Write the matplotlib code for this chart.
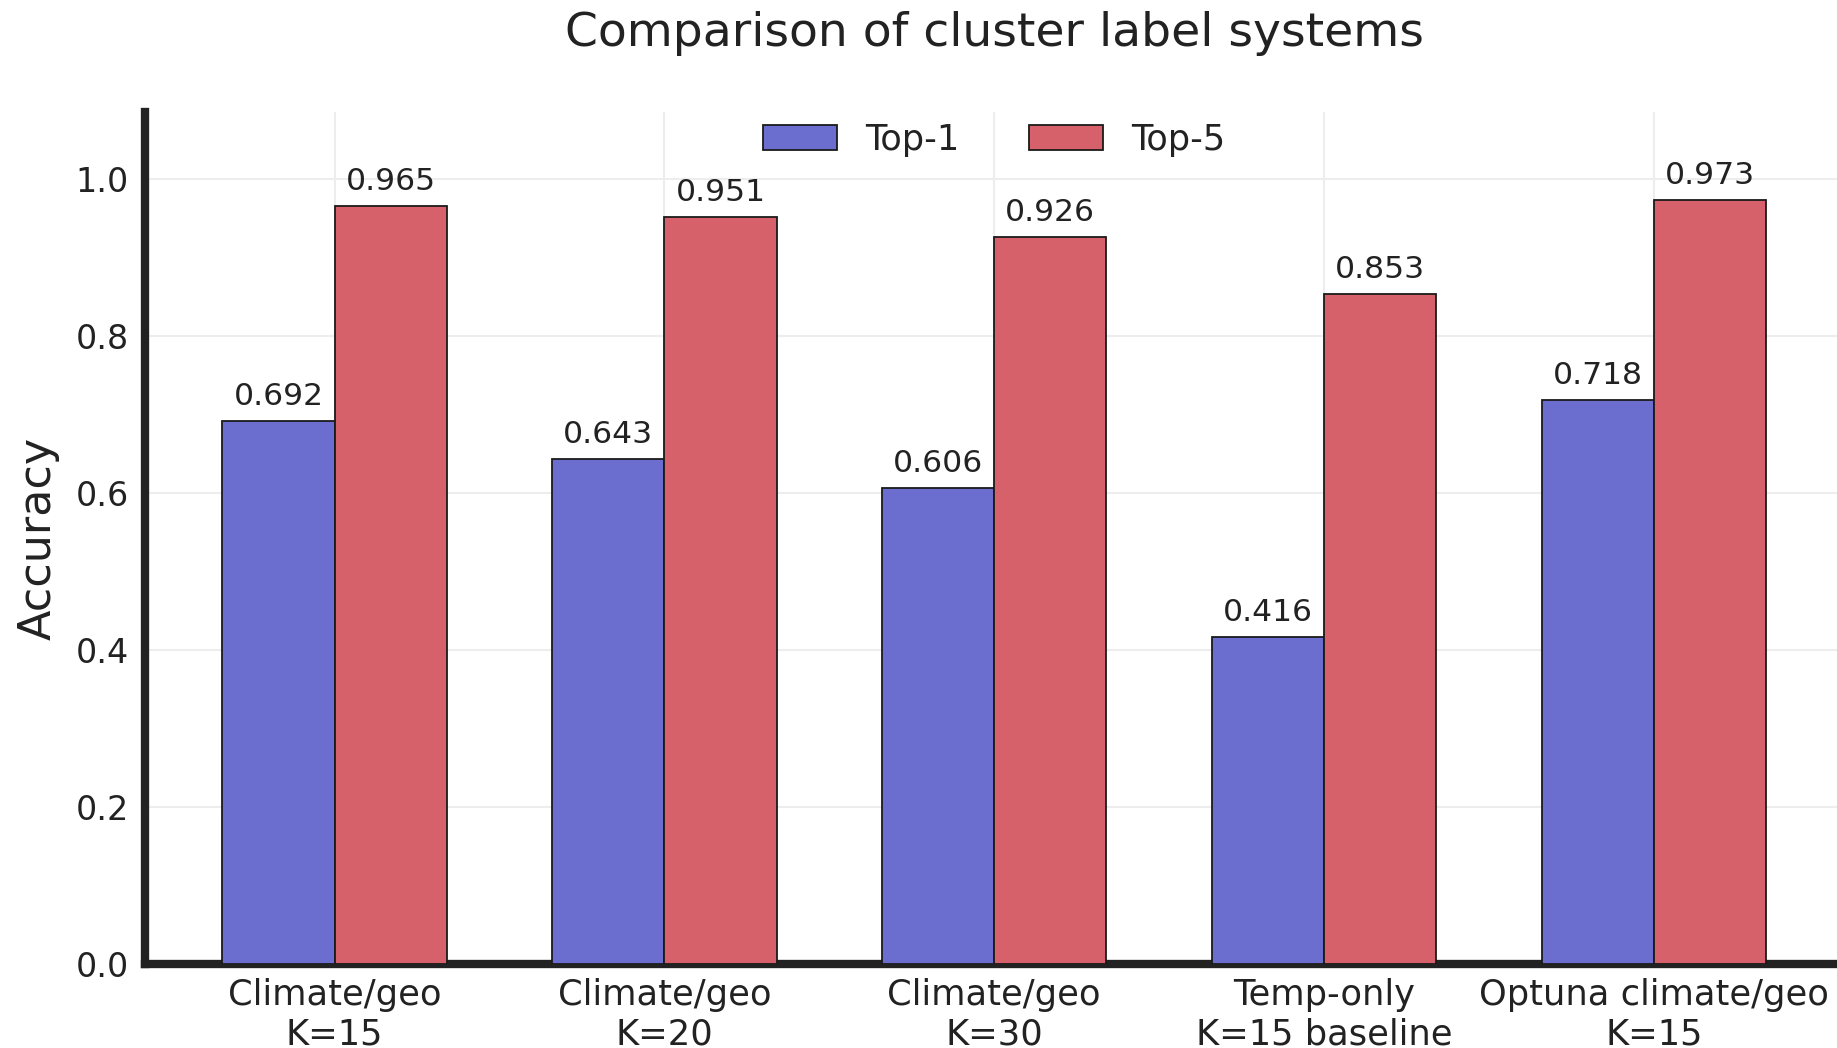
import matplotlib
matplotlib.use("Agg")
import matplotlib.pyplot as plt
import numpy as np

# Data
categories = [
    "Climate/geo\nK=15",
    "Climate/geo\nK=20",
    "Climate/geo\nK=30",
    "Temp-only\nK=15 baseline",
    "Optuna climate/geo\nK=15",
]
top1 = [0.692, 0.643, 0.606, 0.416, 0.718]
top5 = [0.965, 0.951, 0.926, 0.853, 0.973]
series_labels = ["Top-1", "Top-5"]
yticks = [0.0, 0.2, 0.4, 0.6, 0.8, 1.0]

TEXT = "#222222"
plt.rcParams["font.family"] = ["DejaVu Sans"]
plt.rcParams["text.color"] = TEXT

fig = plt.figure(figsize=(18.37, 10.48), dpi=100)
ax = fig.add_axes([0.0791, 0.0802, 0.9242, 0.8127])

x = np.arange(len(categories))
w = 0.34
b1 = ax.bar(x - w / 2, top1, w, color="#6b6ecf", edgecolor="#1a1a1a",
            linewidth=1.3, label=series_labels[0], zorder=3)
b2 = ax.bar(x + w / 2, top5, w, color="#d6616b", edgecolor="#1a1a1a",
            linewidth=1.3, label=series_labels[1], zorder=3)

for bars, vals in ((b1, top1), (b2, top5)):
    for rect, v in zip(bars, vals):
        ax.text(rect.get_x() + rect.get_width() / 2, v + 0.013, f"{v:.3f}",
                ha="center", va="bottom", fontsize=22.6, color=TEXT, zorder=4)

ax.set_xlim(-0.574, 4.574)
ax.set_ylim(0, 1.085)
ax.set_xticks(x)
ax.set_xticklabels(categories)
ax.set_yticks(yticks)
ax.set_yticklabels([f"{t:.1f}" for t in yticks])

ax.tick_params(axis="x", length=0, pad=10, labelsize=25.4, labelcolor=TEXT)
ax.tick_params(axis="y", length=0, pad=12, labelsize=24, labelcolor=TEXT)

ax.grid(True, color="#ededed", linewidth=1.5, zorder=0)
ax.set_axisbelow(True)

for side in ("top", "right"):
    ax.spines[side].set_visible(False)
for side in ("left", "bottom"):
    ax.spines[side].set_linewidth(6)
    ax.spines[side].set_color("#222222")

ax.set_ylabel("Accuracy", fontsize=32, color=TEXT, labelpad=11)
ax.set_title("Comparison of cluster label systems", fontsize=34, color=TEXT, pad=48)

ax.legend(loc="upper center", ncol=2, frameon=False, fontsize=25.3,
          handlelength=2.1, borderaxespad=-0.1)

fig.savefig("out.png", dpi=100)
